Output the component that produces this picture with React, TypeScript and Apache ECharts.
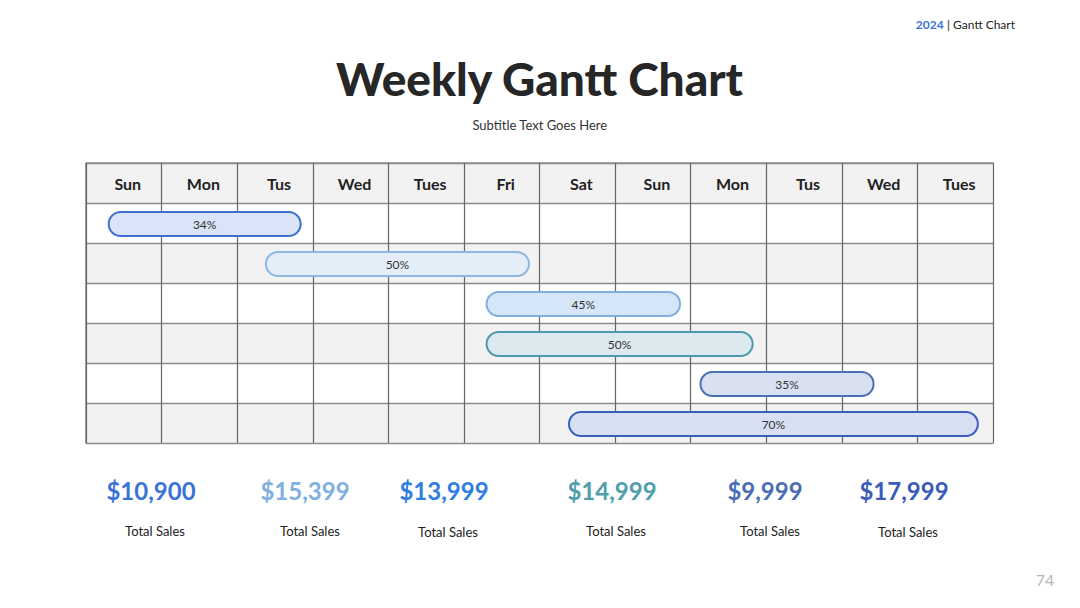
import React, { useEffect, useRef } from 'react';
import * as echarts from 'echarts';

const days = ['Sun', 'Mon', 'Tus', 'Wed', 'Tues', 'Fri', 'Sat', 'Sun', 'Mon', 'Tus', 'Wed', 'Tues'];
const rowNames = ['header', 'Task 1', 'Task 2', 'Task 3', 'Task 4', 'Task 5', 'Task 6'];
const taskRow = [1, 2, 3, 4, 5, 6];
const taskStart = [0.3, 2.38, 5.3, 5.3, 8.13, 6.39];
const taskEnd = [2.84, 5.86, 7.86, 8.82, 10.42, 11.8];
const taskPct = ['34%', '50%', '45%', '50%', '35%', '70%'];
const barFill = ['#d9e4f8', '#e4eef9', '#d5e6f8', '#dce9ee', '#d9e0ef', '#d7dff3'];
const barStroke = ['#3b71cf', '#8db8e1', '#7eb0db', '#4c9aae', '#4a6fb6', '#3a5fbf'];
const salesValues = ['$10,900', '$15,399', '$13,999', '$14,999', '$9,999', '$17,999'];
const salesColors = ['#3a73d6', '#80b0e0', '#2f7ee0', '#4e9eac', '#4a6db5', '#3a5cb8'];
const salesLabel = 'Total Sales';

const FONT = 'Lato, "Open Sans", sans-serif';
const salesX = [151, 305, 444, 612, 765, 904];
const labelX = [155, 310, 448, 616, 770, 908];
const labelY = [531, 531, 532, 531, 531, 532];

export default function App() {
  const ref = useRef<HTMLDivElement>(null);
  useEffect(() => {
    if (!ref.current) return;
    const chart = echarts.init(ref.current, undefined, { renderer: 'svg' });
    const taskData = taskRow.map((r, i) => [r, taskStart[i], taskEnd[i], i]);
    const graphics: any[] = [
      {
        type: 'text', left: 'center', top: 55,
        style: { text: 'Weekly Gantt Chart', font: `900 46px ${FONT}`, fill: '#262626' },
      },
      {
        type: 'text', left: 'center', top: 118,
        style: { text: 'Subtitle Text Goes Here', font: `13px ${FONT}`, fill: '#333' },
      },
      {
        type: 'text', right: 65, top: 18,
        style: {
          text: '{a|2024} {b|| Gantt Chart}',
          rich: {
            a: { font: `bold 12px ${FONT}`, fill: '#3a73d6' },
            b: { font: `12px ${FONT}`, fill: '#222' },
          },
        },
      },
      {
        type: 'text', x: 1045, y: 579,
        style: { text: '74', font: `16px ${FONT}`, fill: '#b8b8b8', align: 'center', verticalAlign: 'middle' },
      },
    ];
    salesValues.forEach((v, i) => {
      graphics.push({
        type: 'text', x: salesX[i], y: 490,
        style: { text: v, font: `bold 24px ${FONT}`, fill: salesColors[i], align: 'center', verticalAlign: 'middle' },
      });
      graphics.push({
        type: 'text', x: labelX[i], y: labelY[i],
        style: { text: salesLabel, font: `13px ${FONT}`, fill: '#222', align: 'center', verticalAlign: 'middle' },
      });
    });

    chart.setOption({
      animation: false,
      backgroundColor: '#ffffff',
      grid: {
        left: 86, top: 163, width: 907, height: 280,
        show: true, borderColor: '#666666', borderWidth: 1.2, backgroundColor: 'transparent',
      },
      xAxis: [
        {
          type: 'category', position: 'top', data: days.map((_, i) => String(i)), boundaryGap: true,
          axisLine: { show: false }, axisTick: { show: false },
          axisLabel: {
            inside: true, margin: 12, formatter: (_v: string, idx: number) => days[idx],
            fontFamily: FONT, fontWeight: 'bold', fontSize: 16, color: '#222',
            padding: [0, 0, 0, 8],
          },
          splitLine: { show: true, lineStyle: { color: '#666666', width: 1.2 } },
          z: 5,
        },
        {
          type: 'value', min: 0, max: 12, show: false,
          splitLine: { show: false },
        },
      ],
      yAxis: {
        type: 'category', data: rowNames, inverse: true,
        axisLine: { show: false }, axisTick: { show: false }, axisLabel: { show: false },
        splitLine: { show: true, lineStyle: { color: '#8a8a8a', width: 1.4 } },
        splitArea: { show: true, areaStyle: { color: ['#f2f2f2', '#ffffff'] } },
      },
      series: [
        {
          type: 'custom', xAxisIndex: 1, yAxisIndex: 0,
          encode: { x: [1, 2], y: 0 },
          data: taskData,
          z: 10,
          renderItem: (params: any, api: any) => {
            const row = api.value(0);
            const i = api.value(3);
            const s = api.coord([api.value(1), row]);
            const e = api.coord([api.value(2), row]);
            const h = 24;
            return {
              type: 'group',
              children: [
                {
                  type: 'rect',
                  shape: { x: s[0], y: s[1] - h / 2 + 1, width: e[0] - s[0], height: h, r: h / 2 },
                  style: { fill: barFill[i], stroke: barStroke[i], lineWidth: 2 },
                },
                {
                  type: 'text',
                  x: (s[0] + e[0]) / 2, y: s[1] + 1.5,
                  style: {
                    text: taskPct[i], font: `12px ${FONT}`, fill: '#333',
                    align: 'center', verticalAlign: 'middle',
                  },
                },
              ],
            };
          },
        },
      ],
      graphic: graphics,
    });
    return () => chart.dispose();
  }, []);
  return <div ref={ref} style={{ position: 'fixed', left: 0, top: 0, width: 1080, height: 608 }} />;
}
